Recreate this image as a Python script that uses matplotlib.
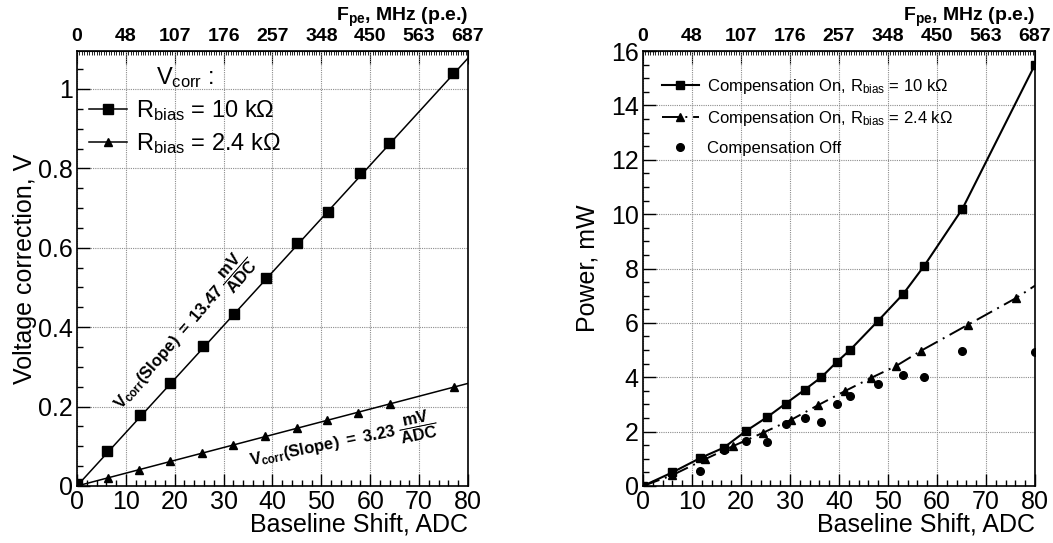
import numpy as np
import matplotlib
matplotlib.use('Agg')
import matplotlib.pyplot as plt
from matplotlib.ticker import MultipleLocator

plt.rcParams['font.family'] = ['Liberation Sans', 'DejaVu Sans']
plt.rcParams['mathtext.fontset'] = 'custom'
plt.rcParams['mathtext.rm'] = 'Liberation Sans'
plt.rcParams['mathtext.it'] = 'Liberation Sans:italic'
plt.rcParams['mathtext.bf'] = 'Liberation Sans:bold'

# dati letti dal grafico
# pannello sinistro: correzione di tensione
shift_10k = [0, 6.2, 12.9, 19.1, 25.7, 32.1, 38.6, 45.1, 51.3, 58.0, 63.9, 76.9]
vcorr_10k = [0.005, 0.089, 0.178, 0.260, 0.352, 0.434, 0.525, 0.613, 0.691, 0.789, 0.863, 1.040]
shift_2k4 = [0, 6.3, 12.7, 19.1, 25.6, 31.9, 38.5, 45.0, 51.2, 57.4, 64.1, 77.1]
vcorr_2k4 = [0.003, 0.021, 0.041, 0.063, 0.083, 0.104, 0.125, 0.145, 0.166, 0.185, 0.207, 0.249]
slope_10k = 13.47   # mV/ADC
slope_2k4 = 3.23    # mV/ADC
fit_x = [0, 80]

# pannello destro: potenza
p_on10_x = [0, 6.0, 11.6, 16.5, 21.0, 25.4, 29.1, 33.0, 36.4, 39.6, 42.3, 47.9, 53.1, 57.4, 65.2, 80.0]
p_on10_y = [0, 0.50, 1.02, 1.41, 2.02, 2.54, 3.03, 3.54, 4.00, 4.57, 5.01, 6.06, 7.06, 8.10, 10.2, 15.5]
p_on24_x = [0, 5.9, 12.6, 18.3, 24.4, 30.3, 35.7, 41.2, 46.6, 51.7, 56.8, 66.4, 76.2]
p_on24_y = [0, 0.39, 0.98, 1.46, 1.95, 2.44, 2.97, 3.49, 3.98, 4.42, 4.98, 5.94, 6.92]
p_on24_line_x = p_on24_x + [80]
p_on24_line_y = p_on24_y + [7.37]
p_off_x = [11.6, 16.5, 21.0, 25.4, 29.1, 33.0, 36.4, 39.6, 42.3, 47.9, 53.1, 57.4, 65.2, 80.0]
p_off_y = [0.54, 1.31, 1.65, 1.62, 2.27, 2.50, 2.37, 3.03, 3.32, 3.76, 4.10, 4.00, 4.96, 4.92]

adc_ticks = [0, 10, 20, 30, 40, 50, 60, 70, 80]
fpe_labels = ['0', '48', '107', '176', '257', '348', '450', '563', '687']

TICK_FS = 18
TOP_FS = 14


def style_axes(ax, ymajor, yminor):
    ax.set_xlim(0, 80)
    ax.xaxis.set_major_locator(MultipleLocator(10))
    ax.xaxis.set_minor_locator(MultipleLocator(2))
    ax.yaxis.set_major_locator(MultipleLocator(ymajor))
    ax.yaxis.set_minor_locator(MultipleLocator(yminor))
    ax.tick_params(which='both', direction='in', top=False, right=False,
                   labelsize=TICK_FS, width=1.0)
    ax.tick_params(which='major', length=9)
    ax.tick_params(which='minor', length=4.5)
    ax.tick_params(axis='x', pad=3)
    ax.tick_params(axis='y', pad=3)
    ax.grid(True, which='major', color='#8c8c8c', linestyle=(0, (1, 1)), linewidth=0.8)
    for s in ax.spines.values():
        s.set_linewidth(1.2)
    top = ax.secondary_xaxis('top')
    top.set_xticks(adc_ticks)
    top.set_xticklabels(fpe_labels, fontweight='bold', fontsize=TOP_FS)
    top.xaxis.set_minor_locator(MultipleLocator(0.5))
    top.tick_params(which='both', direction='in', pad=4)
    top.tick_params(which='major', length=9)
    top.tick_params(which='minor', length=3)
    ax.text(1.0, 1.069, r'$\mathbf{F_{pe}}$, MHz (p.e.)', transform=ax.transAxes,
            ha='right', va='baseline', fontsize=TOP_FS, fontweight='bold')
    ax.set_xlabel('Baseline Shift, ADC', fontsize=TICK_FS)
    ax.xaxis.set_label_coords(1.0, -0.062)
    ax.xaxis.label.set_ha('right')


fig = plt.figure(figsize=(10.53, 5.43), dpi=100)
ax1 = fig.add_axes([0.0731, 0.105, 0.3713, 0.801])
ax2 = fig.add_axes([0.6106, 0.105, 0.3723, 0.801])

# --- pannello sinistro ---
style_axes(ax1, 0.2, 0.05)
ax1.set_ylim(0, 1.0956)
ax1.yaxis.set_major_formatter(plt.FuncFormatter(lambda v, p: '%g' % round(v, 2)))

fx = np.array(fit_x, dtype=float)
ax1.plot(fx, slope_10k / 1000 * fx, color='black', lw=1.1, zorder=3)
ax1.plot(fx, slope_2k4 / 1000 * fx, color='black', lw=1.1, zorder=3)
ax1.plot(shift_10k, vcorr_10k, 's', color='black', ms=6.8, zorder=4)
ax1.plot(shift_2k4, vcorr_2k4, '^', color='black', ms=5.5, zorder=4)
h1, = ax1.plot([], [], '-s', color='black', lw=1.1, ms=6.8)
h2, = ax1.plot([], [], '-^', color='black', lw=1.1, ms=5.5)
leg1 = ax1.legend([h1, h2], [r'R$_{\mathrm{bias}}$ = 10 k$\Omega$', r'R$_{\mathrm{bias}}$ = 2.4 k$\Omega$'],
                  loc='upper left', bbox_to_anchor=(0.0, 0.995), frameon=False,
                  fontsize=17, title=r'V$_{\mathrm{corr}}$ :', title_fontsize=17,
                  handlelength=1.6, handletextpad=0.4, labelspacing=0.35, borderaxespad=0.3,
                  borderpad=0.2, numpoints=1)

ax1.text(21.7, 0.387, r'$\mathbf{V_{corr}(Slope)\ =\ 13.47\ \dfrac{mV}{ADC}}$', rotation=49,
         rotation_mode='anchor', ha='center', va='center', fontsize=12)
ax1.text(54.5, 0.112, r'$\mathbf{V_{corr}(Slope)\ =\ 3.23\ \dfrac{mV}{ADC}}$', rotation=11.5,
         rotation_mode='anchor', ha='center', va='center', fontsize=12)
ax1.set_ylabel('Voltage correction, V', fontsize=TICK_FS)
ax1.yaxis.set_label_coords(-0.102, 0.5)

# --- pannello destro ---
style_axes(ax2, 2, 0.5)
ax2.set_ylim(0, 16)
ax2.plot(p_on10_x, p_on10_y, '-s', color='black', lw=1.5, ms=6, zorder=4,
         label=r'Compensation On, R$_{\mathrm{bias}}$ = 10 k$\Omega$')
ax2.plot(p_on24_line_x, p_on24_line_y, color='black', lw=1.4, dashes=[9, 3, 1, 3], zorder=3)
ax2.plot(p_on24_x, p_on24_y, '^', color='black', ms=5.5, zorder=4)
h3, = ax2.plot([], [], '^', color='black', lw=1.4, ms=5.5, linestyle='-', dashes=[9, 3, 1, 3])
ax2.plot(p_off_x, p_off_y, 'o', color='black', ms=5.5, zorder=4)
h4, = ax2.plot([], [], 'o', color='black', ms=5.5)
handles, labels = ax2.get_legend_handles_labels()
ax2.legend(handles[:1] + [h3, h4],
           labels[:1] + [r'Compensation On, R$_{\mathrm{bias}}$ = 2.4 k$\Omega$', 'Compensation Off'],
           loc='upper left', bbox_to_anchor=(0.01, 0.975), frameon=False, fontsize=12,
           handlelength=2.2, handletextpad=0.5, labelspacing=0.78, numpoints=1)
ax2.set_ylabel('Power, mW', fontsize=TICK_FS)
ax2.yaxis.set_label_coords(-0.11, 0.5)

fig.savefig('out.png', dpi=100)
